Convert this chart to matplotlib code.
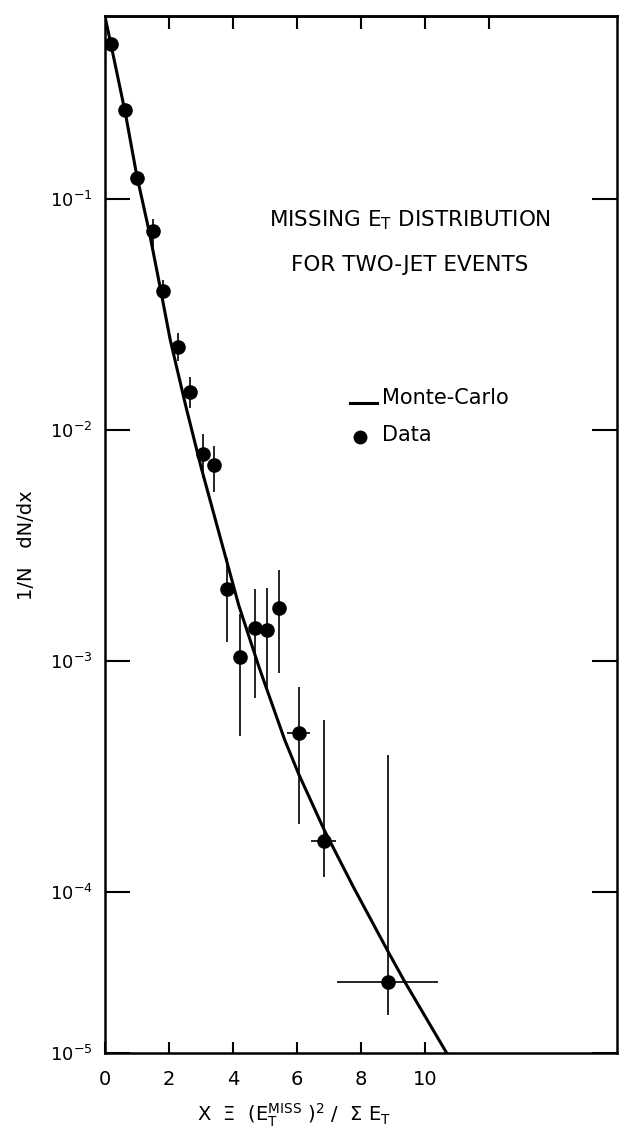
import matplotlib.pyplot as plt
import numpy as np

plt.rcParams['font.family'] = ['Liberation Sans Narrow', 'DejaVu Sans']
plt.rcParams['mathtext.default'] = 'regular'

# data points
x_data = [0.2, 0.64, 0.99, 1.5, 1.8, 2.28, 2.65, 3.05, 3.42, 3.82, 4.23, 4.68, 5.06, 5.44, 6.06, 6.85, 8.85]
y_data = [0.468, 0.242, 0.123, 0.0726, 0.040, 0.0229, 0.01455, 0.00789, 0.00702, 0.00205,
          0.00104, 0.00138, 0.00136, 0.00170, 4.85e-4, 1.66e-4, 4.07e-5]
y_hi = [0.49, 0.254, 0.129, 0.0818, 0.0445, 0.0262, 0.0169, 0.00959, 0.00855, 0.0028,
        0.00159, 0.00205, 0.00207, 0.00246, 7.73e-4, 5.52e-4, 3.91e-4]
y_lo = [0.446, 0.23, 0.117, 0.0616, 0.0352, 0.0199, 0.01239, 0.00619, 0.00537, 0.00120,
        4.71e-4, 6.92e-4, 7.57e-4, 8.83e-4, 1.96e-4, 1.16e-4, 2.91e-5]
x_lo = [0.2, 0.64, 0.99, 1.5, 1.8, 2.28, 2.65, 3.05, 3.42, 3.82, 4.23, 4.68, 5.06, 5.44, 5.7, 6.45, 7.26]
x_hi = [0.2, 0.64, 0.99, 1.5, 1.8, 2.28, 2.65, 3.05, 3.42, 3.82, 4.23, 4.68, 5.06, 5.44, 6.4, 7.23, 10.4]

# Monte-Carlo curve
x_mc = [0.0, 0.2, 0.64, 0.99, 1.38, 1.72, 2.04, 2.53, 3.0, 3.57, 4.18, 4.82, 5.61, 6.05, 6.86,
        7.76, 8.87, 9.37, 10.68, 11.0]
y_mc = [0.617, 0.457, 0.234, 0.127, 0.0724, 0.0417, 0.0245, 0.0126, 0.00692, 0.00355, 0.00174,
        9.33e-4, 4.57e-4, 3.24e-4, 1.84e-4, 1.05e-4, 5.43e-5, 4.07e-5, 2.0e-5, 1.7e-5]

x_ticks = [0, 2, 4, 6, 8, 10]
top_ticks = [2, 4, 6, 8, 10, 12]
y_ticks = [1e-1, 1e-2, 1e-3, 1e-4, 2.0e-5]
y_ticklabels = ['$10^{-1}$', '$10^{-2}$', '$10^{-3}$', '$10^{-4}$', '$10^{-5}$']

fig = plt.figure(figsize=(6.25, 11.29), dpi=100)
ax = fig.add_axes([0.168, 0.0673, 0.819, 0.9185])

ax.plot(x_mc, y_mc, color='black', linewidth=2.2)

y_data = np.array(y_data)
x_data = np.array(x_data)
yerr = [y_data - np.array(y_lo), np.array(y_hi) - y_data]
xerr = [x_data - np.array(x_lo), np.array(x_hi) - x_data]
ax.errorbar(x_data, y_data, yerr=yerr, xerr=xerr, fmt='o', color='black',
            markersize=9.5, elinewidth=1.2, capsize=0)

ax.set_yscale('log')
ax.set_xlim(0, 16)
ax.set_ylim(2.0e-5, 0.62)

ax.set_xticks(x_ticks)
ax.set_xticklabels([str(t) for t in x_ticks], fontsize=14)
ax.set_yticks(y_ticks)
ax.set_yticklabels(y_ticklabels, fontsize=13)
ax.minorticks_off()
ax.tick_params(axis='y', direction='in', length=18, width=1.5, left=True, right=True, pad=9)
ax.tick_params(axis='x', direction='in', length=8, width=1.5, pad=12)

top = ax.secondary_xaxis('top')
top.set_xticks(top_ticks)
top.tick_params(direction='in', length=9, width=1.5, labeltop=False)
top.spines['top'].set_linewidth(1.8)

for s in ax.spines.values():
    s.set_linewidth(1.8)

ax.text(0.595, 0.8035, 'MISSING E$_T$ DISTRIBUTION', transform=ax.transAxes,
        ha='center', va='center', fontsize=15.5)
ax.text(0.595, 0.7595, 'FOR TWO-JET EVENTS', transform=ax.transAxes,
        ha='center', va='center', fontsize=15.5)

# legend drawn by hand
ax.plot([0.478, 0.531], [0.627, 0.627], transform=ax.transAxes, color='black', linewidth=2.2)
ax.text(0.542, 0.632, 'Monte-Carlo', transform=ax.transAxes, ha='left', va='center', fontsize=15)
ax.plot([0.498], [0.594], 'o', transform=ax.transAxes, color='black', markersize=9)
ax.text(0.542, 0.596, 'Data', transform=ax.transAxes, ha='left', va='center', fontsize=15)

ax.set_ylabel('1/N   dN/dx', fontsize=14)
ax.yaxis.set_label_coords(-0.135, 0.49)
ax.set_xlabel('X  Ξ  (E$_T^{MISS}$ )$^2$ /  Σ E$_T$', fontsize=14)
ax.xaxis.set_label_coords(0.37, -0.047)

fig.savefig('out.png', dpi=100)
